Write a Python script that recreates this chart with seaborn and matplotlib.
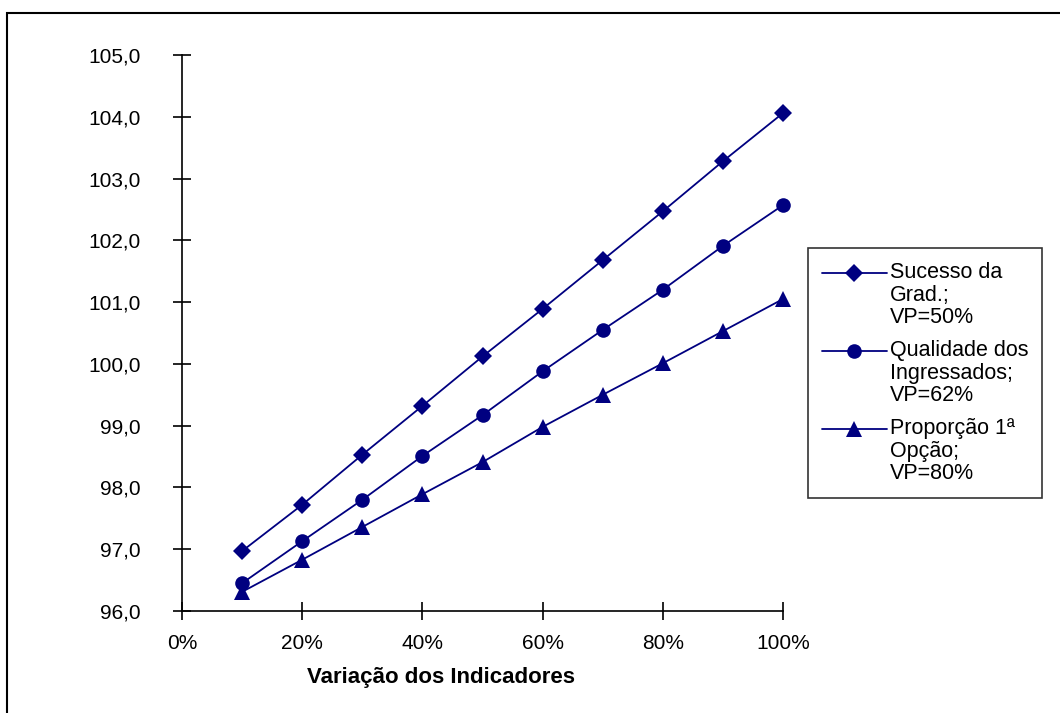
import matplotlib
matplotlib.use("Agg")
import matplotlib.pyplot as plt
import seaborn as sns
import pandas as pd
from matplotlib.patches import Rectangle
from matplotlib.ticker import FuncFormatter
from matplotlib.legend_handler import HandlerLine2D

# data
variacao = [10, 20, 30, 40, 50, 60, 70, 80, 90, 100]
sucesso = [96.97, 97.72, 98.53, 99.32, 100.12, 100.89, 101.68, 102.47, 103.28, 104.06]
qualidade = [96.45, 97.13, 97.80, 98.51, 99.17, 99.88, 100.55, 101.20, 101.91, 102.57]
proporcao = [96.31, 96.83, 97.36, 97.89, 98.41, 98.98, 99.50, 100.01, 100.53, 101.05]
labels = ["Sucesso da\nGrad.;\nVP=50%",
          "Qualidade dos\nIngressados;\nVP=62%",
          "Proporção 1ª\nOpção;\nVP=80%"]

df = pd.concat([
    pd.DataFrame({"x": variacao, "y": vals, "serie": lab})
    for vals, lab in zip([sucesso, qualidade, proporcao], labels)
])

sns.set_style("white")
plt.rcParams["font.family"] = ["Liberation Sans", "DejaVu Sans"]
plt.rcParams["text.color"] = "black"
plt.rcParams["xtick.color"] = "black"
plt.rcParams["ytick.color"] = "black"

navy = "#000080"
markers = ["D", "o", "^"]
msizes = [9, 10.5, 11]


# legend handle sits on the first text line, as in Excel
class FirstLineHandler(HandlerLine2D):
    def create_artists(self, legend, orig_handle, xdescent, ydescent,
                       width, height, fontsize, trans):
        arts = super().create_artists(legend, orig_handle, xdescent, ydescent,
                                      width, height, fontsize, trans)
        for a in arts:
            a.set_ydata([y + 16 for y in a.get_ydata()])
        return arts


fig = plt.figure(figsize=(10.6, 7.13), dpi=100)
ax = fig.add_axes([182 / 1060, 1 - 611 / 713, (783 - 182) / 1060, (611 - 55) / 713])

sns.lineplot(data=df, x="x", y="y", hue="serie", style="serie",
             palette=[navy] * 3, markers=markers, dashes=False,
             linewidth=1.3, markeredgewidth=0, ax=ax, legend=False)
for ln, ms in zip(ax.lines, msizes):
    ln.set_markersize(ms)
    ln.set_clip_on(False)

ax.set_xlim(0, 100)
ax.set_ylim(96, 105)
ax.set_xticks(range(0, 101, 20))
ax.set_yticks(range(96, 106))
ax.xaxis.set_major_formatter(FuncFormatter(lambda v, p: f"{v:.0f}%"))
ax.yaxis.set_major_formatter(FuncFormatter(lambda v, p: f"{v:.1f}".replace(".", ",")))
ax.tick_params(bottom=True, left=True, direction="inout", length=13, width=1.2,
               labelsize=15, color="black", labelcolor="black")
ax.tick_params(axis="y", pad=23)
ax.tick_params(axis="x", pad=10)
ax.set_xlabel("")
ax.set_ylabel("")
for s in ["top", "right"]:
    ax.spines[s].set_visible(False)
for s in ["left", "bottom"]:
    ax.spines[s].set_color("black")
    ax.spines[s].set_linewidth(1.2)

fig.text(441 / 1060, 1 - 677 / 713, "Variação dos Indicadores",
         ha="center", va="center", fontsize=16, fontweight="bold")

# legend
handles = [plt.Line2D([], [], color=navy, marker=m, markersize=ms, linewidth=1.3,
                      markeredgewidth=0) for m, ms in zip(markers, msizes)]
leg = fig.legend(handles, labels, loc="upper left", bbox_to_anchor=(808 / 1060, 1 - 248 / 713),
                 fontsize=15.5, frameon=True, fancybox=False, edgecolor="black",
                 handlelength=3.0, handletextpad=0.15, borderpad=0.65, labelspacing=0.55,
                 borderaxespad=0, handler_map={plt.Line2D: FirstLineHandler()})
leg.get_frame().set_linewidth(1.2)
for t in leg.get_texts():
    t.set_linespacing(1.1)

# outer chart border
fig.patches.append(Rectangle((7 / 1060, -0.05), 1.1, 1 - 13 / 713 + 0.05,
                             transform=fig.transFigure, fill=False,
                             edgecolor="black", linewidth=1.5))

fig.savefig("out.png", dpi=100)
